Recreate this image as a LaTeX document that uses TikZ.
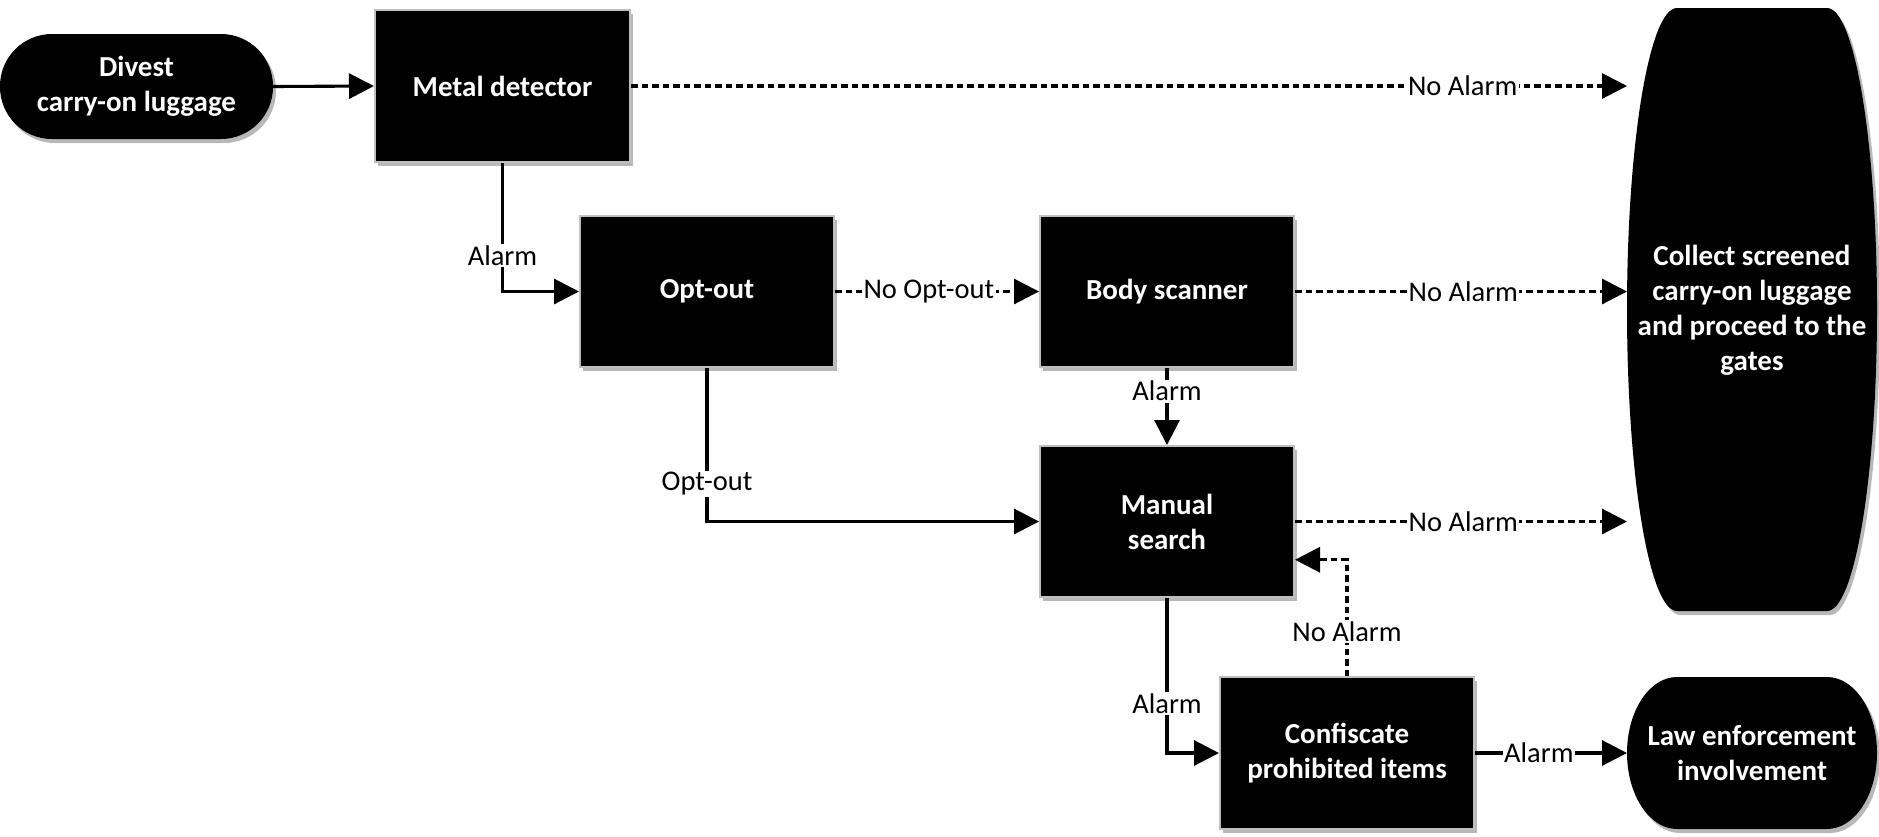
\documentclass[tikz,border=0pt]{standalone}
\usepackage{fontspec}
\setmainfont{Carlito}
\usetikzlibrary{arrows.meta,shadows,calc}
\definecolor{boxborder}{HTML}{BFBFBF}
\tikzset{
  shad/.style={drop shadow={shadow xshift=3pt, shadow yshift=-4pt, fill=black, opacity=0.28}},
  boxtext/.style={text=white, font=\bfseries\fontsize{29}{35}\selectfont, align=center},
  box/.style={rectangle, fill=black, draw=boxborder, line width=2pt, minimum width=254pt, minimum height=151pt, inner sep=0pt, boxtext, shad},
  pill/.style={rectangle, fill=black, rounded corners=52pt, minimum width=273pt, minimum height=105pt, inner sep=0pt, boxtext, shad},
  conn/.style={line width=3.1pt, -{Triangle[length=25pt,width=25pt]}},
  dconn/.style={conn, dash pattern=on 6.5pt off 4pt},
  lbl/.style={fill=white, inner sep=1.5pt, text=black, font=\fontsize{28.5}{33}\selectfont}
}
\begin{document}
\begin{tikzpicture}[x=1pt, y=-1pt]
\useasboundingbox (0,0) rectangle (1879,836);
% terminal shapes
\fill[black, shad] (1677,8) -- (1827,8) arc[start angle=90, end angle=-90, x radius=50pt, y radius=301.5pt] -- (1677,611) arc[start angle=270, end angle=90, x radius=50pt, y radius=301.5pt] -- cycle;
\fill[black, shad] (1677,677) -- (1827,677) arc[start angle=90, end angle=-90, x radius=50pt, y radius=76pt] -- (1677,829) arc[start angle=270, end angle=90, x radius=50pt, y radius=76pt] -- cycle;
\node[boxtext] (collect) at (1752,310) {Collect screened\\carry-on luggage\\and proceed to the\\gates};
\node[boxtext] (law) at (1752,753) {Law enforcement\\involvement};
\coordinate (cin1) at (1627,86);
\coordinate (cin2) at (1627,291.5);
\coordinate (cin3) at (1627,521.5);
\coordinate (lawin) at (1627,753);
% nodes
\node[pill] (div) at (136.5,86.5) {Divest\\carry-on luggage};
\node[box, minimum width=255pt, minimum height=152pt] (md) at (502.5,86) {Metal detector};
\node[box] (opt) at (707,291.5) {Opt-out};
\node[box] (body) at (1167,291.5) {Body scanner};
\node[box] (man) at (1167,521.5) {Manual\\search};
\node[box, minimum height=152pt] (conf) at (1347,753) {Confiscate\\prohibited items};
\coordinate (manin) at ($(man.east)!0.5!(man.south east)$);
% connectors
\draw[conn] (div.east) -- (md.west);
\draw[dconn] (md.east) -- node[lbl, pos=0.835] {No Alarm} (cin1);
\draw[conn] (md.south) |- node[lbl, pos=0.36] {Alarm} (opt.west);
\draw[dconn] (opt.east) -- node[lbl, pos=0.46] {No Opt-out} (body.west);
\draw[dconn] (body.east) -- node[lbl, pos=0.507] {No Alarm} (cin2);
\draw[conn] (body.south) -- node[lbl, pos=0.3] {Alarm} (man.north);
\draw[conn] (opt.south) |- node[lbl, pos=0.377] {Opt-out} (man.west);
\draw[dconn] (man.east) -- node[lbl, pos=0.507] {No Alarm} (cin3);
\draw[conn] (man.south) |- node[lbl, pos=0.34] {Alarm} (conf.west);
\draw[dconn] (conf.north) |- node[lbl, pos=0.19] {No Alarm} (manin);
\draw[conn] (conf.east) -- node[lbl, pos=0.42] {Alarm} (lawin);
\end{tikzpicture}
\end{document}
